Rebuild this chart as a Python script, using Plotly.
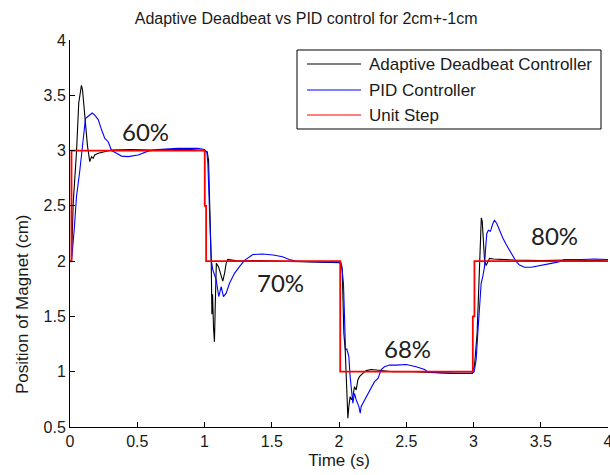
import plotly.graph_objects as go

# ---- data -------------------------------------------------------------
# Reference input (sampled step command, cm)
step_t = [0.0, 0.011, 1.002, 1.012, 2.009, 2.995, 3.007, 4.0]
step_y = [2.0, 3.0, 2.5, 2.0, 1.0, 1.5, 2.0, 2.0]

# Adaptive deadbeat controller response (cm)
db_t = [0.005, 0.011, 0.024, 0.048, 0.065, 0.085, 0.093, 0.11, 0.13, 0.147,
        0.16, 0.172, 0.184, 0.21, 0.256, 0.31, 0.45, 0.6, 0.75, 0.9, 0.99,
        1.02, 1.03, 1.037, 1.045, 1.05, 1.055, 1.06, 1.067, 1.074, 1.08,
        1.088, 1.104, 1.119, 1.136, 1.149, 1.161, 1.173, 1.25, 1.4, 1.6,
        1.8, 1.98, 2.015, 2.024, 2.028, 2.036, 2.046, 2.053, 2.061, 2.066,
        2.073, 2.083, 2.093, 2.103, 2.115, 2.128, 2.14, 2.152, 2.177, 2.202,
        2.24, 2.3, 2.4, 2.55, 2.7, 2.85, 2.99, 3.007, 3.027, 3.037, 3.045,
        3.052, 3.058, 3.065, 3.074, 3.082, 3.094, 3.106, 3.119, 3.15, 3.3,
        3.5, 3.7, 3.9, 4.0]
db_y = [2.0, 2.01, 2.53, 2.98, 3.43, 3.59, 3.55, 3.28, 3.04, 2.90,
        2.945, 2.93, 2.96, 2.975, 2.99, 3.005, 3.01, 3.005, 3.01, 3.01, 3.0,
        2.99, 2.915, 2.64, 2.34, 2.0, 1.52, 1.70, 1.40, 1.27, 1.60,
        1.98, 1.95, 1.89, 1.82, 1.89, 1.98, 2.015, 2.0, 2.005, 2.0,
        1.995, 1.99, 1.985, 1.92, 1.65, 1.35, 1.20, 0.955, 0.745, 0.58,
        0.685, 0.775, 0.745, 0.775, 0.865, 0.835, 0.925, 0.955, 0.985, 1.01,
        1.02, 1.01, 1.0, 1.0, 0.99, 0.985, 0.985, 1.05, 1.35, 1.65, 1.95,
        2.25, 2.39, 2.36, 2.19, 2.01, 1.96, 2.0, 2.025, 2.02, 2.01,
        2.005, 2.01, 2.005, 2.01]

# PID controller response (cm)
pid_t = [0.005, 0.011, 0.031, 0.048, 0.073, 0.093, 0.115, 0.135, 0.165, 0.184,
         0.21, 0.234, 0.259, 0.284, 0.309, 0.346, 0.383, 0.433, 0.507, 0.58,
         0.65, 0.8, 0.95, 1.0, 1.018, 1.025, 1.032, 1.037, 1.042, 1.05,
         1.062, 1.087, 1.106, 1.124, 1.141, 1.161, 1.186, 1.223, 1.26, 1.30,
         1.36, 1.43, 1.51, 1.58, 1.63, 1.68, 1.8, 1.95, 2.0, 2.02,
         2.033, 2.041, 2.048, 2.058, 2.066, 2.073, 2.083, 2.093, 2.103, 2.115,
         2.128, 2.148, 2.158, 2.165, 2.19, 2.214, 2.24, 2.264, 2.29, 2.30,
         2.314, 2.338, 2.375, 2.425, 2.50, 2.574, 2.636, 2.66, 2.747, 2.9,
         2.99, 3.005, 3.02, 3.032, 3.045, 3.057, 3.069, 3.082, 3.089, 3.099,
         3.111, 3.126, 3.144, 3.156, 3.173, 3.193, 3.218, 3.243, 3.268, 3.292,
         3.318, 3.342, 3.38, 3.43, 3.48, 3.53, 3.578, 3.64, 3.676, 3.8,
         3.9, 4.0]
pid_y = [1.99, 2.0, 2.28, 2.58, 2.82, 3.04, 3.29, 3.31, 3.34, 3.32,
         3.28, 3.19, 3.11, 3.08, 3.0, 2.975, 2.95, 2.945, 2.96, 2.995,
         3.01, 3.02, 3.02, 3.01, 2.98, 2.885, 2.67, 2.43, 2.22, 2.01,
         1.92, 1.83, 1.68, 1.77, 1.68, 1.71, 1.80, 1.89, 1.95, 2.01,
         2.06, 2.065, 2.055, 2.04, 2.015, 2.0, 1.995, 1.99, 1.99, 1.96,
         1.8, 1.5, 1.2, 1.205, 1.17, 1.14, 0.955, 0.805, 0.715, 0.805,
         0.745, 0.685, 0.625, 0.685, 0.745, 0.805, 0.865, 0.91, 0.94, 0.97,
         1.02, 1.045, 1.06, 1.06, 1.065, 1.045, 1.02, 1.0, 0.99, 0.985,
         0.985, 1.0, 1.11, 1.35, 1.65, 1.80, 1.86, 1.95, 2.10, 2.25,
         2.28, 2.27, 2.34, 2.37, 2.34, 2.28, 2.21, 2.15, 2.10, 2.04,
         1.995, 1.965, 1.945, 1.945, 1.955, 1.965, 1.98, 1.995, 2.015, 2.015,
         2.02, 2.015]

# Settling-improvement labels placed on each step
pct_labels = ["60%", "70%", "68%", "80%"]
pct_t = [0.56, 1.565, 2.506, 3.599]
pct_y = [3.171, 1.807, 1.212, 2.228]

x_ticks = [0, 0.5, 1, 1.5, 2, 2.5, 3, 3.5, 4]
x_ticktext = ["0", "0.5", "1", "1.5", "2", "2.5", "3", "3.5", "4"]
y_ticks = [0.5, 1, 1.5, 2, 2.5, 3, 3.5, 4]
y_ticktext = ["0.5", "1", "1.5", "2", "2.5", "3", "3.5", "4"]

series_names = ["Adaptive Deadbeat Controller", "PID Controller", "Unit Step"]
series_colors = ["#000000", "#0000ff", "#ff0000"]

# ---- figure -----------------------------------------------------------
W, H = 610, 475
ML, MR, MT, MB = 70, 2, 40, 48
PW, PH = W - ML - MR, H - MT - MB

def px_x(px):
    return (px - ML) / PW

def px_y(py):
    return (H - MB - py) / PH

FONT = "Liberation Sans, Arial, sans-serif"
TXT = "#1a1a1a"

fig = go.Figure()
fig.add_trace(go.Scatter(x=db_t, y=db_y, mode="lines", name=series_names[0],
                         line=dict(color=series_colors[0], width=1.1),
                         showlegend=False))
fig.add_trace(go.Scatter(x=pid_t, y=pid_y, mode="lines", name=series_names[1],
                         line=dict(color=series_colors[1], width=1.1),
                         showlegend=False))
fig.add_trace(go.Scatter(x=step_t, y=step_y, mode="lines", name=series_names[2],
                         line=dict(color=series_colors[2], width=1.8, shape="hv"),
                         showlegend=False))

for lab, tx, ty in zip(pct_labels, pct_t, pct_y):
    fig.add_annotation(x=tx, y=ty, text=lab, showarrow=False,
                       font=dict(family="Lato, sans-serif", size=24, color="#202020"))

# boxed legend in the upper right of the axes
box_l, box_r, box_t, box_b = 297, 601, 50, 129
fig.add_shape(type="rect", xref="paper", yref="paper",
              x0=px_x(box_l), x1=px_x(box_r), y0=px_y(box_b), y1=px_y(box_t),
              line=dict(color="#000000", width=1), fillcolor="white", layer="above")
row_y = [64, 90, 115]
for name, col, ry in zip(series_names, series_colors, row_y):
    fig.add_shape(type="line", xref="paper", yref="paper",
                  x0=px_x(307), x1=px_x(361), y0=px_y(ry), y1=px_y(ry),
                  line=dict(color=col, width=1.1), layer="above")
    fig.add_annotation(xref="paper", yref="paper", x=px_x(367), y=px_y(ry),
                       xanchor="left", yanchor="middle", text=name, showarrow=False,
                       font=dict(family=FONT, size=17, color=TXT))

# y-axis title
fig.add_annotation(xref="paper", yref="paper", x=px_x(22), y=px_y(304),
                   text="Position of Magnet (cm)", textangle=-90, showarrow=False,
                   xanchor="center", yanchor="middle",
                   font=dict(family=FONT, size=17, color=TXT))

axis_common = dict(showline=True, linecolor="#000000", linewidth=1,
                   ticks="inside", ticklen=5, tickcolor="#000000",
                   showgrid=False, zeroline=False, mirror=False,
                   ticklabeloverflow="allow", automargin=False,
                   tickfont=dict(family=FONT, size=16, color=TXT))

fig.update_layout(
    width=W, height=H,
    margin=dict(l=ML, r=MR, t=MT, b=MB),
    paper_bgcolor="white", plot_bgcolor="white",
    title=dict(text="Adaptive Deadbeat vs PID control for 2cm+-1cm",
               x=px_x(340), xanchor="center", y=1 - 18 / H, yanchor="middle",
               font=dict(family=FONT, size=16, color=TXT)),
    xaxis=dict(range=[0, 4], tickvals=x_ticks, ticktext=x_ticktext,
               title=dict(text="Time (s)", standoff=4,
                          font=dict(family=FONT, size=17, color=TXT)),
               **axis_common),
    yaxis=dict(range=[0.5, 4], tickvals=y_ticks, ticktext=y_ticktext, **axis_common),
)

fig.write_html("out.html")
